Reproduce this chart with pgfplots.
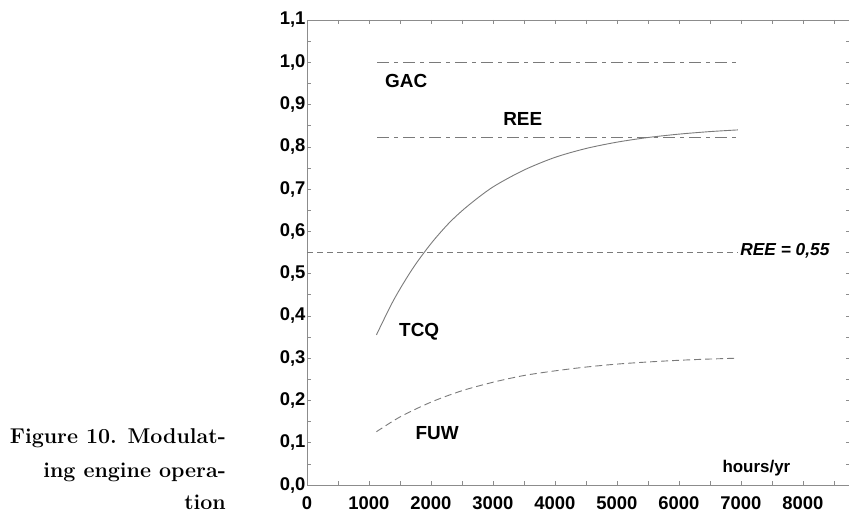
\documentclass[border=0pt]{standalone}
\usepackage{pgfplots}
\pgfplotsset{compat=1.18}
\usepackage{fontspec}
\newfontfamily\helv{Liberation Sans}
\definecolor{axgray}{HTML}{8C8C8C}
\definecolor{lngray}{HTML}{7A7A7A}
\begin{document}
\begin{tikzpicture}
\useasboundingbox (0,0) rectangle (849bp,514bp);
\begin{axis}[
  at={(307bp,29bp)}, anchor=south west,
  scale only axis, width=543bp, height=465bp,
  xmin=0, xmax=8760, ymin=0, ymax=1.1,
  axis line style={axgray, line width=0.8bp},
  xtick={0,1000,2000,3000,4000,5000,6000,7000,8000},
  minor xtick={500,1500,2500,3500,4500,5500,6500,7500,8500},
  ytick={0,0.1,0.2,0.3,0.4,0.5,0.6,0.7,0.8,0.9,1.0,1.1},
  minor ytick={0.05,0.15,0.25,0.35,0.45,0.55,0.65,0.75,0.85,0.95,1.05},
  tick align=inside, major tick length=4bp, minor tick length=4bp,
  every tick/.style={axgray, line width=0.6bp},
  tick label style={font=\helv\bfseries\fontsize{18.5}{18.5}\selectfont},
  /pgf/number format/assume math mode=true,
  yticklabel style={xshift=2bp, /pgf/number format/.cd, fixed, fixed zerofill, precision=1, use comma},
  xticklabel style={yshift=-8bp, /pgf/number format/.cd, fixed, 1000 sep={}},
  clip=false,
]
% TCQ
\addplot[lngray, line width=0.9bp, smooth] coordinates {
(1120,0.355) (1400,0.438) (1700,0.511) (2000,0.571) (2300,0.621) (2600,0.661)
(3000,0.705) (3500,0.745) (4000,0.775) (4500,0.796) (5000,0.811) (5500,0.822)
(6000,0.830) (6500,0.836) (6950,0.840)};
% FUW
\addplot[lngray, line width=0.9bp, smooth, dash pattern=on 7bp off 4bp] coordinates {
(1120,0.126) (1500,0.161) (2000,0.196) (2500,0.223) (3000,0.243) (3500,0.259)
(4000,0.270) (4500,0.279) (5000,0.286) (5500,0.291) (6000,0.295) (6500,0.298) (6950,0.300)};
% GAC
\addplot[lngray, line width=0.8bp, dash pattern=on 12bp off 5bp on 4bp off 5bp] coordinates {(1130,1.0) (6950,1.0)};
% REE
\addplot[lngray, line width=0.8bp, dash pattern=on 12bp off 5bp on 4bp off 5bp] coordinates {(1130,0.822) (6950,0.822)};
% REE = 0.55
\addplot[lngray, line width=0.8bp, dash pattern=on 6bp off 4bp] coordinates {(0,0.55) (6950,0.55)};
\node[font=\helv\bfseries\fontsize{19}{19}\selectfont] at (axis cs:1600,0.955) {GAC};
\node[font=\helv\bfseries\fontsize{19}{19}\selectfont] at (axis cs:3480,0.865) {REE};
\node[font=\helv\bfseries\fontsize{19}{19}\selectfont] at (axis cs:1810,0.363) {TCQ};
\node[font=\helv\bfseries\fontsize{19}{19}\selectfont] at (axis cs:2100,0.124) {FUW};
\node[font=\helv\bfseries\fontsize{17}{17}\selectfont] at (axis cs:7250,0.04) {hours/yr};
\node[font=\helv\bfseries\itshape\fontsize{17.4}{17.4}\selectfont] at (axis cs:7710,0.554) {REE = 0,55};
\end{axis}
\begin{scope}[font=\bfseries\fontsize{21.5}{33}\selectfont]
\node[anchor=base east, inner sep=0pt] at (226bp,70bp) {Figure 10. Modulat-};
\node[anchor=base east, inner sep=0pt] at (226bp,37bp) {ing engine opera-};
\node[anchor=base east, inner sep=0pt] at (226bp,5bp) {tion};
\end{scope}
\end{tikzpicture}
\end{document}
